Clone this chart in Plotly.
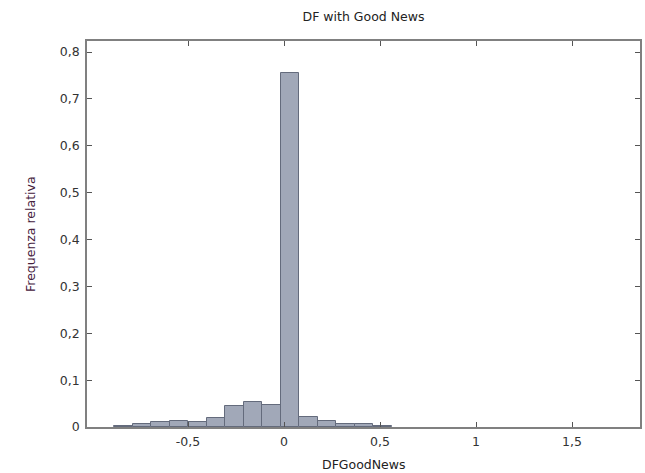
import plotly.graph_objects as go

bin_centers = [-0.837, -0.740, -0.644, -0.548, -0.451, -0.355, -0.259, -0.162,
               -0.066, 0.031, 0.127, 0.223, 0.320, 0.416, 0.513]
rel_freq = [0.003, 0.007, 0.010, 0.013, 0.0115, 0.0187, 0.0446, 0.053,
            0.047, 0.755, 0.021, 0.012, 0.006, 0.006, 0.003]
bin_width = 0.0963

x_ticks = [-0.5, 0, 0.5, 1, 1.5]
x_tick_labels = ["-0,5", "0", "0,5", "1", "1,5"]
y_ticks = [0, 0.1, 0.2, 0.3, 0.4, 0.5, 0.6, 0.7, 0.8]
y_tick_labels = ["0", "0,1", "0,2", "0,3", "0,4", "0,5", "0,6", "0,7", "0,8"]

font_family = "DejaVu Sans, Verdana, sans-serif"
fs = 12.5

fig = go.Figure()
fig.add_trace(go.Bar(
    x=bin_centers, y=rel_freq, width=bin_width,
    marker=dict(color="#a1a8b8", line=dict(color="#646b7c", width=1)),
    showlegend=False,
))

axis_common = dict(
    showline=True, linecolor="#808080", linewidth=1.5, mirror="ticks",
    ticks="inside", ticklen=5, tickcolor="#555555", tickwidth=1,
    showgrid=False, zeroline=False, automargin=False,
    tickfont=dict(family=font_family, size=fs, color="#333333"),
)

fig.update_layout(
    width=645, height=473,
    margin=dict(l=87, r=5, t=41, b=46),
    paper_bgcolor="white", plot_bgcolor="white",
    title=dict(text="DF with Good News", x=0.5, xref="paper", xanchor="center",
               y=1 - 17 / 473, yanchor="middle",
               font=dict(family=font_family, size=fs, color="#222222")),
    xaxis=dict(range=[-1.026, 1.854], tickvals=x_ticks, ticktext=x_tick_labels,
               ticklabelstandoff=2, **axis_common),
    yaxis=dict(range=[0, 0.8237], tickvals=y_ticks, ticktext=y_tick_labels,
               ticklabelstandoff=3, **axis_common),
    bargap=0,
    annotations=[
        dict(text="DFGoodNews", xref="paper", yref="paper",
             x=0.5, y=-38 / 386, xanchor="center", yanchor="middle",
             showarrow=False,
             font=dict(family=font_family, size=fs, color="#222222")),
        dict(text="Frequenza relativa", xref="paper", yref="paper",
             x=-57 / 553, y=0.5, xanchor="center", yanchor="middle",
             textangle=-90, showarrow=False,
             font=dict(family=font_family, size=fs, color="#44203c")),
    ],
)

fig.write_html("out.html", config={"displayModeBar": False},
               post_script="document.body.style.margin='0';document.body.style.overflow='hidden';")
